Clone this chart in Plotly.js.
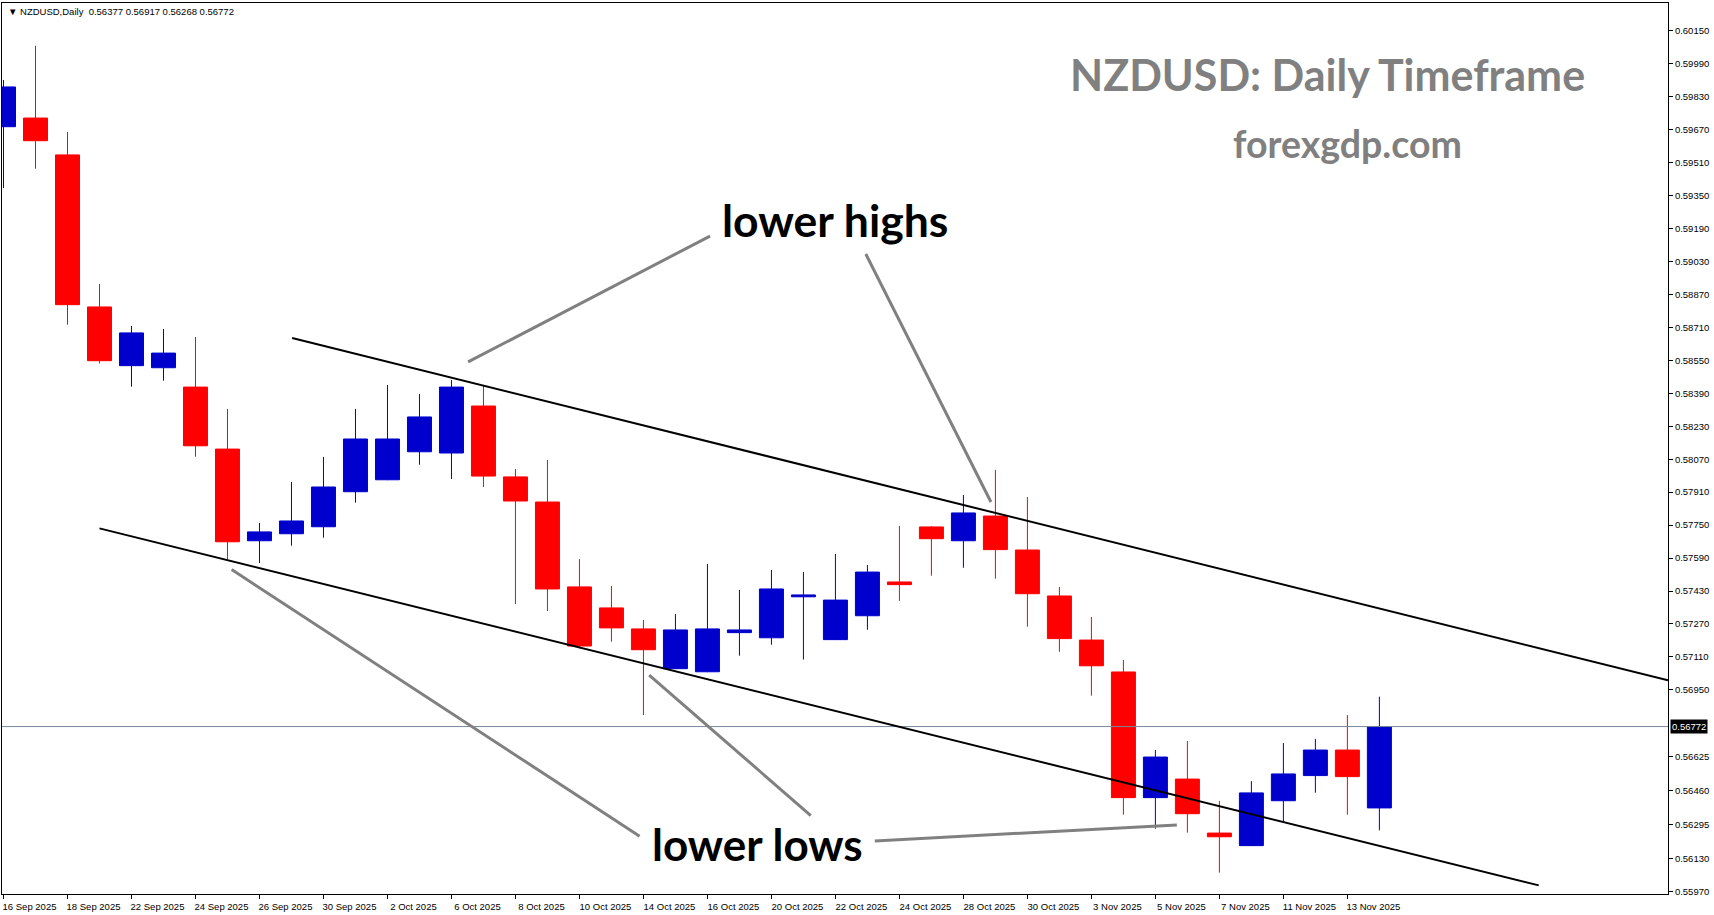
<!DOCTYPE html>
<html><head><meta charset="utf-8">
<script src="https://cdn.plot.ly/plotly-3.0.1.min.js"></script>
<style>html,body{margin:0;padding:0;background:#fff;}#chart{width:1714px;height:915px;}</style>
</head><body><div id="chart"></div>
<script>
// ---- data ----
const dates = ["16 Sep 2025","17 Sep 2025","18 Sep 2025","19 Sep 2025","22 Sep 2025","23 Sep 2025","24 Sep 2025","25 Sep 2025","26 Sep 2025","29 Sep 2025","30 Sep 2025","1 Oct 2025","2 Oct 2025","3 Oct 2025","6 Oct 2025","7 Oct 2025","8 Oct 2025","9 Oct 2025","10 Oct 2025","13 Oct 2025","14 Oct 2025","15 Oct 2025","16 Oct 2025","17 Oct 2025","20 Oct 2025","21 Oct 2025","22 Oct 2025","23 Oct 2025","24 Oct 2025","27 Oct 2025","28 Oct 2025","29 Oct 2025","30 Oct 2025","31 Oct 2025","3 Nov 2025","4 Nov 2025","5 Nov 2025","6 Nov 2025","7 Nov 2025","10 Nov 2025","11 Nov 2025","12 Nov 2025","13 Nov 2025","14 Nov 2025"];
const opens  = [0.59684,0.59726,0.59547,0.58809,0.58524,0.58514,0.58420,0.58119,0.57674,0.57708,0.57742,0.57912,0.57970,0.58106,0.58100,0.58328,0.57984,0.57862,0.57450,0.57348,0.57246,0.57053,0.57038,0.57228,0.57203,0.57402,0.57194,0.57310,0.57474,0.57741,0.57674,0.57794,0.57629,0.57406,0.57192,0.57037,0.56427,0.56517,0.56255,0.56194,0.56412,0.56534,0.56658,0.56377];
const highs  = [0.59911,0.60077,0.59658,0.58920,0.58717,0.58702,0.58663,0.58314,0.57760,0.57959,0.58081,0.58314,0.58430,0.58386,0.58454,0.58425,0.58022,0.58066,0.57585,0.57454,0.57289,0.57318,0.57561,0.57435,0.57532,0.57522,0.57610,0.57556,0.57746,0.57745,0.57896,0.58018,0.57886,0.57450,0.57304,0.57095,0.56658,0.56702,0.56411,0.56507,0.56692,0.56712,0.56828,0.56917];
const lows   = [0.59386,0.59480,0.58723,0.58535,0.58422,0.58451,0.58082,0.57584,0.57566,0.57650,0.57689,0.57859,0.57968,0.58043,0.57974,0.57935,0.57367,0.57333,0.57152,0.57184,0.56828,0.57051,0.57036,0.57116,0.57169,0.57097,0.57192,0.57242,0.57382,0.57504,0.57543,0.57490,0.57257,0.57135,0.56922,0.56344,0.56276,0.56257,0.56063,0.56192,0.56310,0.56451,0.56344,0.56268];
const closes = [0.59877,0.59616,0.58820,0.58548,0.58683,0.58585,0.58135,0.57669,0.57717,0.57770,0.57935,0.58168,0.58168,0.58275,0.58420,0.57988,0.57867,0.57440,0.57163,0.57251,0.57145,0.57241,0.57246,0.57241,0.57440,0.57411,0.57386,0.57522,0.57461,0.57684,0.57809,0.57631,0.57417,0.57199,0.57067,0.56427,0.56624,0.56349,0.56237,0.56450,0.56542,0.56658,0.56529,0.56772];
const xTickLabels = dates.filter((d, i) => i % 2 === 0);
const yTickVals = [0.60150,0.59990,0.59830,0.59670,0.59510,0.59350,0.59190,0.59030,0.58870,0.58710,0.58550,0.58390,0.58230,0.58070,0.57910,0.57750,0.57590,0.57430,0.57270,0.57110,0.56950,0.56625,0.56460,0.56295,0.56130,0.55970];
const lastPrice = 0.56772;
const symbolLabel = "NZDUSD,Daily";
const headerOHLC = [0.56377, 0.56917, 0.56268, 0.56772];
// drawn objects (anchor points in bar-index / price units)
const upperChannelX = [9.02, 52.02], upperChannelY = [0.58658, 0.56997];
const lowerChannelX = [3.00, 47.98], lowerChannelY = [0.57734, 0.56001];
const pointerX = [[14.52, 22.08], [26.95, 30.86], [7.13, 19.88], [20.18, 25.23], [27.23, 36.67]];
const pointerY = [[0.58542, 0.59153], [0.59066, 0.57862], [0.57534, 0.56240], [0.57022, 0.56340], [0.56217, 0.56294]];
const titleText = "NZDUSD: Daily Timeframe";
const siteText = "forexgdp.com";
const highsText = "lower highs";
const lowsText = "lower lows";

// ---- chart ----
const axisFont = {family: "Liberation Sans, Arial, sans-serif", size: 9.5, color: "#000"};
const trace = {
  type: "candlestick", x: dates, open: opens, high: highs, low: lows, close: closes,
  increasing: {line: {color: "#0000CC", width: 1}, fillcolor: "#0000CC"},
  decreasing: {line: {color: "#FF0000", width: 1}, fillcolor: "#FF0000"},
  whiskerwidth: 0, showlegend: false, hoverinfo: "skip"
};

const shapes = [
  {type: "line", xref: "paper", x0: 0, x1: 1, yref: "y", y0: lastPrice, y1: lastPrice, line: {color: "#778899", width: 1}},
  {type: "line", xref: "x", yref: "y", x0: upperChannelX[0], x1: upperChannelX[1], y0: upperChannelY[0], y1: upperChannelY[1], line: {color: "#000", width: 2}},
  {type: "line", xref: "x", yref: "y", x0: lowerChannelX[0], x1: lowerChannelX[1], y0: lowerChannelY[0], y1: lowerChannelY[1], line: {color: "#000", width: 2}}
];
pointerX.forEach((px, k) => shapes.push({type: "line", xref: "x", yref: "y", x0: px[0], x1: px[1], y0: pointerY[k][0], y1: pointerY[k][1], line: {color: "#808080", width: 3}}));

const bigFont = "Lato, 'Open Sans', sans-serif";
const annotations = [
  {xref: "paper", yref: "paper", x: 0, y: 1, xanchor: "left", yanchor: "top", xshift: 4, yshift: -1, showarrow: false,
   text: "\u25BC " + symbolLabel + "  " + headerOHLC.map(v => v.toFixed(5)).join(" "),
   font: {family: "Liberation Sans, Arial, sans-serif", size: 9.5, color: "#000"}},
  {xref: "paper", yref: "y", x: 1, y: lastPrice, xanchor: "left", yanchor: "middle", xshift: 2, showarrow: false,
   text: lastPrice.toFixed(5), bgcolor: "#000", borderpad: 1, font: {family: "Liberation Sans, Arial, sans-serif", size: 9.5, color: "#fff"}},
  {xref: "paper", yref: "paper", x: 0.7959, y: 0.9192, xanchor: "center", yanchor: "middle", showarrow: false,
   text: titleText, font: {family: bigFont, size: 43, color: "#808080", weight: "bold"}},
  {xref: "paper", yref: "paper", x: 0.8076, y: 0.8428, xanchor: "center", yanchor: "middle", showarrow: false,
   text: siteText, font: {family: bigFont, size: 37.5, color: "#808080", weight: "bold"}},
  {xref: "paper", yref: "paper", x: 0.5, y: 0.7568, xanchor: "center", yanchor: "middle", showarrow: false,
   text: highsText, font: {family: bigFont, size: 44.5, color: "#000", weight: "bold"}},
  {xref: "paper", yref: "paper", x: 0.4535, y: 0.056, xanchor: "center", yanchor: "middle", showarrow: false,
   text: lowsText, font: {family: bigFont, size: 44, color: "#000", weight: "bold"}}
];

const layout = {
  width: 1714, height: 915,
  margin: {l: 2, r: 46, t: 3, b: 21, pad: 0},
  paper_bgcolor: "#fff", plot_bgcolor: "#fff",
  showlegend: false, boxgap: 0.25, boxgroupgap: 0,
  xaxis: {type: "category", range: [-0.047, 52.02], showgrid: false, zeroline: false,
    showline: true, mirror: true, linecolor: "#000", linewidth: 1,
    ticks: "outside", ticklen: 4, tickcolor: "#000", tickmode: "array",
    tickvals: xTickLabels, ticktext: xTickLabels, tickfont: axisFont, ticklabelshift: 26,
    rangeslider: {visible: false}, fixedrange: true},
  yaxis: {side: "right", range: [0.559592, 0.602845], showgrid: false, zeroline: false,
    showline: true, mirror: true, linecolor: "#000", linewidth: 1,
    ticks: "outside", ticklen: 4, tickcolor: "#000", tickmode: "array",
    tickvals: yTickVals, ticktext: yTickVals.map(v => v.toFixed(5)), tickfont: axisFont, fixedrange: true},
  shapes: shapes, annotations: annotations
};

Plotly.newPlot("chart", [trace], layout, {staticPlot: true, displayModeBar: false});
</script>
</body></html>
